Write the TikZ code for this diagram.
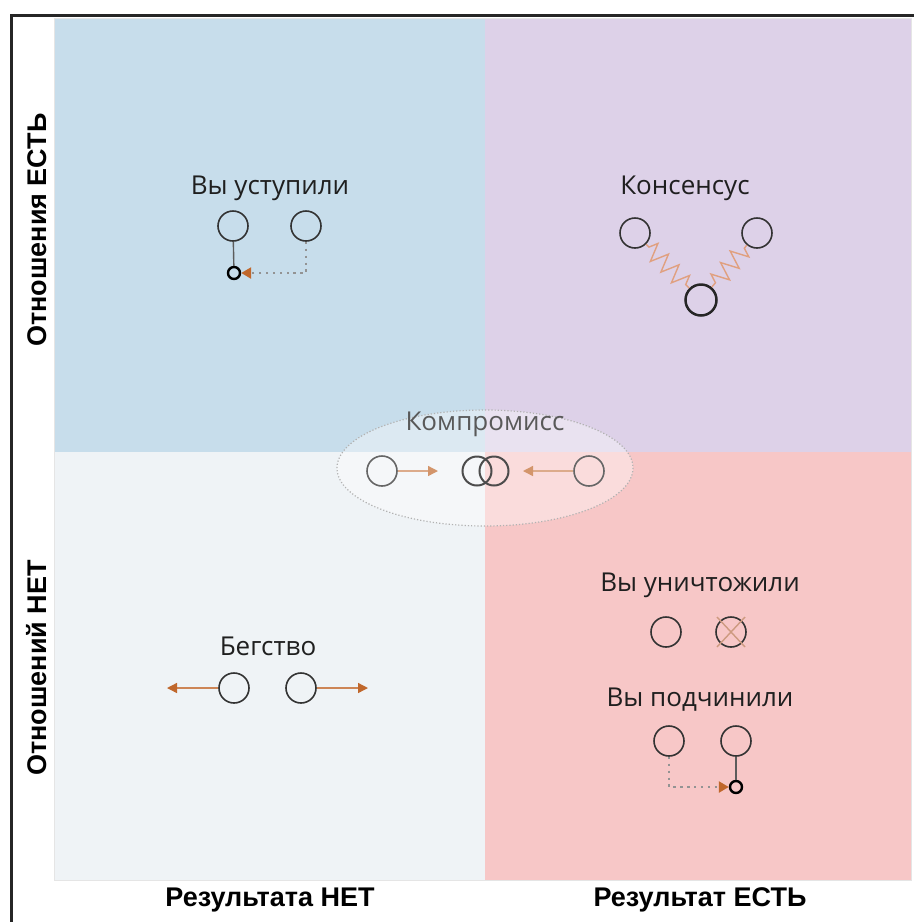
\documentclass[tikz,border=0pt]{standalone}
\usepackage{fontspec}
\setmainfont{Open Sans}
\newfontfamily\axisfont{Liberation Sans}
\usetikzlibrary{arrows.meta,decorations.pathmorphing,calc}
\definecolor{qblue}{HTML}{C7DDEB}
\definecolor{qpurple}{HTML}{DDD1E8}
\definecolor{qgray}{HTML}{EFF3F6}
\definecolor{qpink}{HTML}{F7C7C7}
\definecolor{arrowc}{HTML}{C0672C}
\definecolor{springc}{HTML}{E0A080}
\definecolor{ringc}{HTML}{333333}
\tikzset{
  lbl/.style={font=\fontsize{26}{30}\selectfont, text=black!88, inner sep=0},
  axislbl/.style={font=\axisfont\bfseries\fontsize{27}{30}\selectfont, text=black, inner sep=0},
  ring/.style={circle, draw=ringc, line width=1.6pt, minimum size=30pt, inner sep=0},
  boldring/.style={circle, draw=black!85, line width=2.5pt, minimum size=31pt, inner sep=0},
  smalldot/.style={circle, draw=black, line width=2.4pt, minimum size=12pt, inner sep=0},
  link/.style={draw=ringc!80, line width=1.4pt},
  orarrow/.style={draw=arrowc!80, line width=1.4pt, -{Triangle[length=10pt,width=10pt,color=arrowc]}},
  dotarrow/.style={draw=gray!85, line width=2.4pt, dash pattern=on 2.4pt off 4.5pt, -{Triangle[length=10pt,width=11pt,color=arrowc]}},
  spring/.style={draw=springc, line width=1.4pt, decorate, decoration={zigzag, segment length=15pt, amplitude=9pt, pre length=4pt, post length=4pt}}
}
\begin{document}
\begin{tikzpicture}[x=1pt,y=-1pt]
\useasboundingbox (0,0) rectangle (914,922);
\fill[white] (0,0) rectangle (914,922);
% quadrants
\fill[qblue] (54,18) rectangle (485,452);
\fill[qpurple] (485,18) rectangle (911,452);
\fill[qgray] (54,452) rectangle (485,880);
\fill[qpink] (485,452) rectangle (911,880);
\draw[black!10, line width=1pt] (54,18) rectangle (911,880);
% frame
\draw[black!85, line width=3pt] (11,922) -- (11,15) -- (914,15);
% compromise ellipse
\fill[white, opacity=0.38] (485,468) ellipse [x radius=148, y radius=58];
\draw[gray!60, line width=1.2pt, dotted] (485,468) ellipse [x radius=148, y radius=58];

% axis labels
\node[axislbl, rotate=90] (ay) at (37,230) {Отношения ЕСТЬ};
\node[axislbl, rotate=90] (an) at (37,668) {Отношений НЕТ};
\node[axislbl] (xn) at (270,900) {Результата НЕТ};
\node[axislbl] (xy) at (700,900) {Результат ЕСТЬ};

% Вы уступили
\node[lbl] (tu) at (270,188) {Вы уступили};
\node[ring] (u1) at (233,226) {};
\node[ring] (u2) at (306,226) {};
\node[smalldot] (u3) at (234,273) {};
\draw[link] (u1) -- (u3);
\draw[dotarrow] (u2.south) |- (u3.east);

% Консенсус
\node[lbl] (tk) at (685,188) {Консенсус};
\node[ring] (k1) at (635,233) {};
\node[ring] (k2) at (757,233) {};
\node[boldring] (k3) at (701,300) {};
\draw[spring] (k1) -- (k3);
\draw[spring] (k2) -- (k3);

% Компромисс
\node[lbl, text=black!65] (tc) at (485,424) {Компромисс};
\node[ring, draw=ringc!75] (c1) at (382,471) {};
\node[boldring, draw=black!70, line width=2pt, minimum size=29pt] (c2) at (477,471) {};
\node[boldring, draw=black!70, line width=2pt, minimum size=29pt] (c3) at (494,471) {};
\node[ring, draw=ringc!75] (c4) at (589,471) {};
\coordinate (c1t) at (438,471);
\coordinate (c4t) at (523,471);
\draw[orarrow, draw=arrowc!55, -{Triangle[length=10pt,width=10pt,color=arrowc!70]}] (c1) -- (c1t);
\draw[orarrow, draw=arrowc!55, -{Triangle[length=10pt,width=10pt,color=arrowc!70]}] (c4) -- (c4t);

% Бегство
\node[lbl] (tb) at (268,646) {Бегство};
\node[ring] (b1) at (234,688) {};
\node[ring] (b2) at (301,688) {};
\coordinate (b1t) at (167,688);
\coordinate (b2t) at (368,688);
\draw[orarrow] (b1) -- (b1t);
\draw[orarrow] (b2) -- (b2t);

% Вы уничтожили
\node[lbl] (td) at (700,585) {Вы уничтожили};
\node[ring] (d1) at (666,632) {};
\node[ring] (d2) at (731,632) {};
\draw[springc!80!gray, line width=1.4pt] ($(d2)+(-14,-15)$) -- ($(d2)+(14,15)$);
\draw[springc!80!gray, line width=1.4pt] ($(d2)+(-14,15)$) -- ($(d2)+(14,-15)$);

% Вы подчинили
\node[lbl] (tp) at (700,700) {Вы подчинили};
\node[ring] (p1) at (669,741) {};
\node[ring] (p2) at (736,741) {};
\node[smalldot] (p3) at (736,787) {};
\draw[link] (p2) -- (p3);
\draw[dotarrow] (p1.south) |- (p3.west);
\end{tikzpicture}
\end{document}
